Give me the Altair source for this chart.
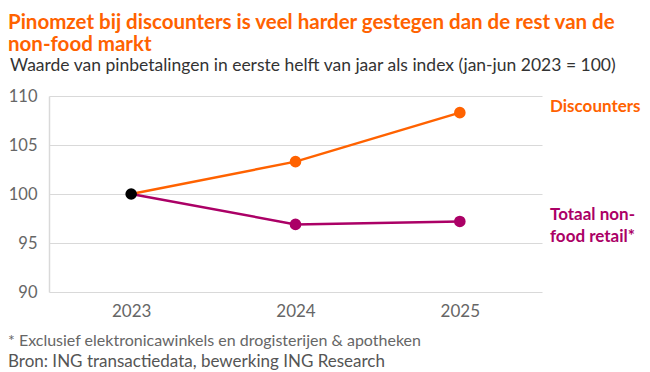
import altair as alt
import pandas as pd

years = ["2023", "2024", "2025"]
discounters = [100, 103.3, 108.3]
non_food = [100, 96.9, 97.2]
series_names = ["Discounters", "Totaal non-food retail*"]
series_labels = [["Discounters"], ["Totaal non-", "food retail*"]]
colors = ["#FF6200", "#AB0066"]

title_lines = ["Pinomzet bij discounters is veel harder gestegen dan de rest van de", "non-food markt"]
subtitle = "Waarde van pinbetalingen in eerste helft van jaar als index (jan-jun 2023 = 100)"
footnotes = ["* Exclusief elektronicawinkels en drogisterijen & apotheken",
             "Bron: ING transactiedata, bewerking ING Research"]

FONT = "Lato"
W, H = 493, 196

rows = []
for name, vals in zip(series_names, [discounters, non_food]):
    for y, v in zip(years, vals):
        rows.append({"year": y, "value": v, "series": name})
df = pd.DataFrame(rows)

x = alt.X("year:O", axis=alt.Axis(title=None, labelAngle=0, domain=False, ticks=False,
                                   labelFontSize=17, labelColor="#666666", labelFont=FONT,
                                   labelPadding=11),
          scale=alt.Scale(paddingOuter=0.5))
y = alt.Y("value:Q", scale=alt.Scale(domain=[90, 110]),
          axis=alt.Axis(title=None, values=[90, 95, 100, 105, 110], ticks=False,
                        domainColor="#d9d9d9", domainWidth=1.5,
                        gridColor="#d9d9d9", gridWidth=1.2,
                        labelFontSize=16.5, labelColor="#666666", labelFont=FONT,
                        labelPadding=12))
color = alt.Color("series:N", scale=alt.Scale(domain=series_names, range=colors), legend=None)

lines = alt.Chart(df).mark_line(strokeWidth=2.5).encode(x=x, y=y, color=color)
pts = alt.Chart(df[df.year != "2023"]).mark_point(filled=True, size=135, opacity=1).encode(x=x, y=y, color=color)
first = alt.Chart(df[(df.year == "2023") & (df.series == series_names[0])]).mark_point(
    filled=True, size=135, opacity=1, color="black").encode(x=x, y=y)

lab_rows = []
for name, lab, vals in zip(series_names, series_labels, [discounters, non_food]):
    lab_rows.append({"series": name, "value": vals[-1], "label": lab})
lab_df = pd.DataFrame(lab_rows)
labels = alt.Chart(lab_df).mark_text(align="left", baseline="middle", fontSize=17,
                                     fontWeight="bold", font=FONT, dy=-6, lineHeight=22).encode(
    x=alt.value(W + 8), y=alt.Y("value:Q"), text="label", color=color)

def txt(t, xv, yv, size, col, weight="normal"):
    return alt.Chart(pd.DataFrame({"t": [t]})).mark_text(
        align="left", baseline="alphabetic", fontSize=size, color=col, font=FONT,
        fontWeight=weight).encode(text="t:N", x=alt.value(xv), y=alt.value(yv))

texts = [
    txt(title_lines[0], -41, -67, 20.5, "#FF6200", "bold"),
    txt(title_lines[1], -41, -45, 20.5, "#FF6200", "bold"),
    txt(subtitle, -39, -25, 17.5, "#333333"),
    txt(footnotes[0], -41, 250, 16, "#666666"),
    txt(footnotes[1], -41, 271, 17, "#555555"),
]

chart = alt.layer(lines, pts, first, labels, *texts).properties(
    width=W, height=H,
    autosize=alt.AutoSizeParams(type="none"),
    padding={"left": 41, "top": 88, "right": 100, "bottom": 78},
).configure_view(stroke=None)

chart.save("out.html", embed_options={"renderer": "svg", "actions": False})
